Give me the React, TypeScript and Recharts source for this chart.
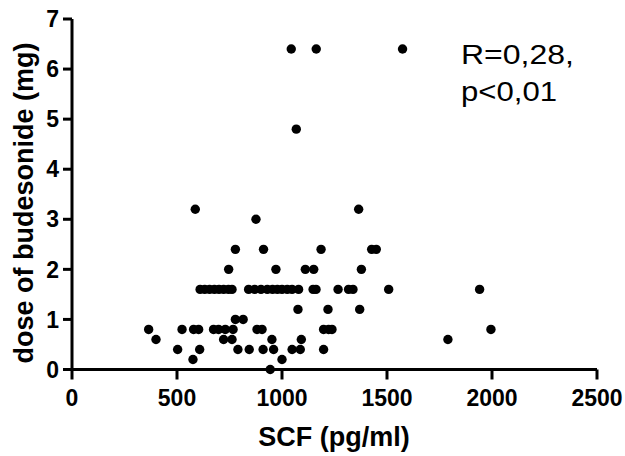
import React from 'react';
import { ScatterChart, Scatter, XAxis, YAxis, Customized } from 'recharts';

// SCF (pg/ml) values and matching budesonide doses (mg)
const scfValues: number[] = [
  1044, 1163, 1574,
  1068,
  587, 1365,
  876,
  778, 912, 1186, 1427, 1449,
  746, 971, 1111, 1151, 1378,
  610, 632, 655, 678, 700, 722, 745, 762, 841, 870, 900, 930, 955, 978, 1000, 1025, 1048, 1079, 1148, 1162, 1267, 1317, 1338, 1508, 1941,
  1076, 1219, 1370,
  778, 815,
  365, 524, 579, 603, 674, 698, 730, 767, 881, 905, 1198, 1222, 1238, 1995,
  400, 722, 762, 952, 1092, 1790,
  503, 608, 790, 844, 910, 960, 1048, 1087, 1198,
  576, 1000,
  944,
];
const doseValues: number[] = [
  6.4, 6.4, 6.4,
  4.8,
  3.2, 3.2,
  3.0,
  2.4, 2.4, 2.4, 2.4, 2.4,
  2.0, 2.0, 2.0, 2.0, 2.0,
  1.6, 1.6, 1.6, 1.6, 1.6, 1.6, 1.6, 1.6, 1.6, 1.6, 1.6, 1.6, 1.6, 1.6, 1.6, 1.6, 1.6, 1.6, 1.6, 1.6, 1.6, 1.6, 1.6, 1.6, 1.6,
  1.2, 1.2, 1.2,
  1.0, 1.0,
  0.8, 0.8, 0.8, 0.8, 0.8, 0.8, 0.8, 0.8, 0.8, 0.8, 0.8, 0.8, 0.8, 0.8,
  0.6, 0.6, 0.6, 0.6, 0.6, 0.6,
  0.4, 0.4, 0.4, 0.4, 0.4, 0.4, 0.4, 0.4, 0.4,
  0.2, 0.2,
  0.0,
];
const xTicks: number[] = [0, 500, 1000, 1500, 2000, 2500];
const yTicks: number[] = [0, 1, 2, 3, 4, 5, 6, 7];
const xTitle = 'SCF (pg/ml)';
const yTitle = 'dose of budesonide (mg)';
const annotation: string[] = ['R=0,28,', 'p<0,01'];

const data = scfValues.map((x, i) => ({ x, y: doseValues[i] }));

const FONT = '"Liberation Sans", Arial, Helvetica, sans-serif';

const Dot = (props: any) => (
  <circle cx={props.cx} cy={props.cy} r={4.7} fill="#000" />
);

const Titles = () => (
  <g>
    <text
      x={334}
      y={446}
      textAnchor="middle"
      fontFamily={FONT}
      fontWeight="bold"
      fontSize={27}
      fill="#000"
    >
      {xTitle}
    </text>
    <text
      transform="translate(33,203) rotate(-90)"
      textAnchor="middle"
      fontFamily={FONT}
      fontWeight="bold"
      fontSize={27}
      fill="#000"
    >
      {yTitle}
    </text>
    <text x={461} y={64} fontFamily={FONT} fontSize={28} fill="#000" textLength={113} lengthAdjust="spacingAndGlyphs">
      {annotation[0]}
    </text>
    <text x={461} y={101} fontFamily={FONT} fontSize={28} fill="#000" textLength={96} lengthAdjust="spacingAndGlyphs">
      {annotation[1]}
    </text>
  </g>
);

export default function App() {
  const tickStyle = { fontFamily: FONT, fontWeight: 'bold', fontSize: 23, fill: '#000' };
  return (
    <div style={{ position: 'absolute', left: 0, top: 0, width: 625, height: 456, background: '#fff' }}>
      <ScatterChart
        width={625}
        height={456}
        margin={{ top: 19, right: 28, bottom: 0, left: 0 }}
      >
        <XAxis
          type="number"
          dataKey="x"
          domain={[0, 2500]}
          ticks={xTicks}
          interval={0}
          height={86.5}
          axisLine={{ stroke: '#000', strokeWidth: 3 }}
          tickLine={{ stroke: '#000', strokeWidth: 3 }}
          tickSize={10}
          tickMargin={10}
          tick={tickStyle}
        />
        <YAxis
          type="number"
          dataKey="y"
          domain={[0, 7]}
          ticks={yTicks}
          interval={0}
          width={72}
          axisLine={{ stroke: '#000', strokeWidth: 3 }}
          tickLine={{ stroke: '#000', strokeWidth: 3 }}
          tickSize={9}
          tickMargin={4}
          tick={tickStyle}
        />
        <Scatter data={data} shape={Dot} isAnimationActive={false} />
        <Customized component={Titles} />
      </ScatterChart>
    </div>
  );
}
